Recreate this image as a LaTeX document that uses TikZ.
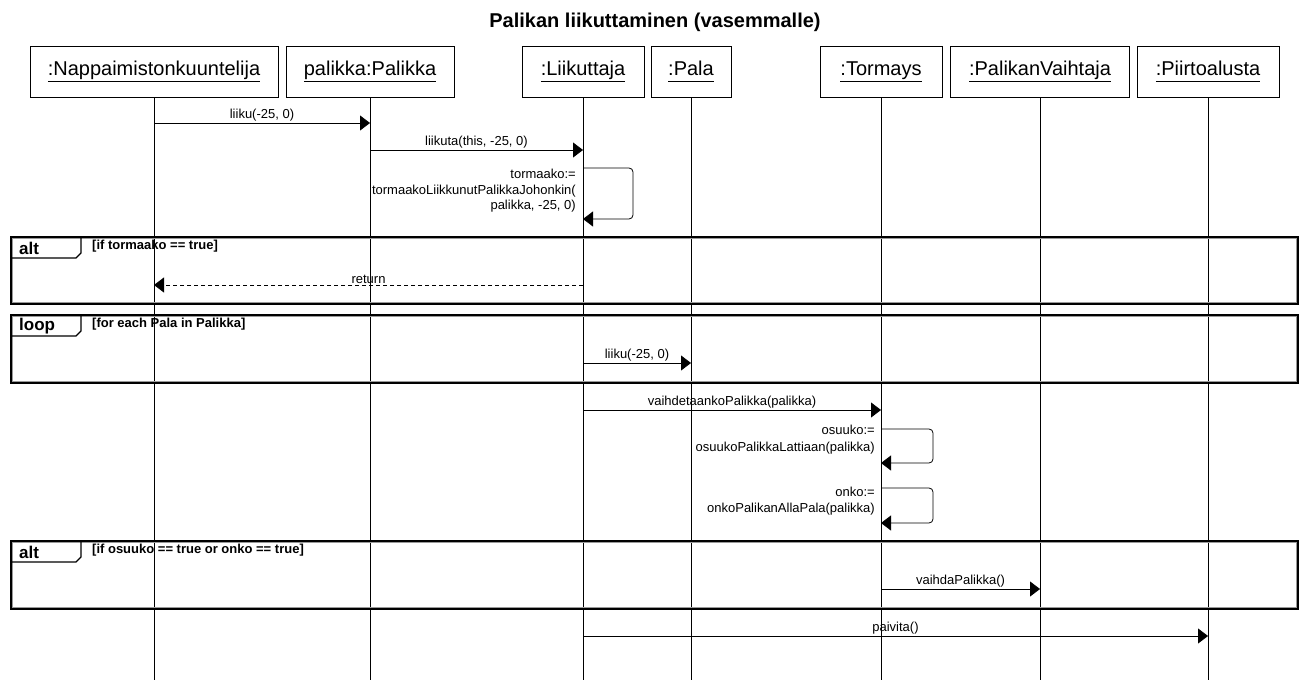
\documentclass[tikz,border=0pt]{standalone}
\usepackage{fontspec}
\setmainfont{Liberation Sans}
\usetikzlibrary{positioning}
\usetikzlibrary{calc,arrows.meta}

\newcommand{\objname}[1]{\underline{\vphantom{Jj}#1}}

\begin{document}
\begin{tikzpicture}[x=1pt,y=-1pt,every node/.style={inner sep=1pt}]
	
	\tikzstyle{object}=[rectangle,draw=black,thin,minimum height=51pt,font=\fontsize{20}{24}\selectfont]
	\tikzstyle{lifeline}=[black,line width=0.7pt]
	\tikzstyle{msg}=[black,line width=0.8pt,-{Triangle[length=10pt,width=15pt]}]
	\tikzstyle{reply}=[msg,dash pattern=on 4pt off 3pt]
	\tikzstyle{msg label}=[font=\fontsize{13}{16}\selectfont]
	\tikzstyle{frame}=[draw=black,line width=1.3pt]
	\tikzstyle{frame shadow}=[draw=black!40,line width=1pt]
	\tikzstyle{tab}=[anchor=west,font=\bfseries\fontsize{17}{20}\selectfont]
	\tikzstyle{guard}=[anchor=west,font=\bfseries\fontsize{13}{15}\selectfont]
	
	\useasboundingbox (0,0) rectangle (1308,693);
	
	\node [font=\bfseries\fontsize{20}{24}\selectfont] (title) at (655,22) {Palikan liikuttaminen (vasemmalle)};
	
	% Objects:
	\node [object,minimum width=248pt] (napp) at (154,71.5) {\objname{:Nappaimistonkuuntelija}};
	\node [object,minimum width=168pt] (palikka) at (370,71.5) {\objname{palikka:Palikka}};
	\node [object,minimum width=122pt] (liik) at (583,71.5) {\objname{:Liikuttaja}};
	\node [object,minimum width=80pt] (pala) at (691,71.5) {\objname{:Pala}};
	\node [object,minimum width=122pt] (torm) at (881,71.5) {\objname{:Tormays}};
	\node [object,minimum width=179pt] (vaiht) at (1040,71.5) {\objname{:PalikanVaihtaja}};
	\node [object,minimum width=142pt] (piirto) at (1208,71.5) {\objname{:Piirtoalusta}};
	
	% Lifelines:
	\coordinate (bottom) at (0,680);
	\foreach \o in {napp,palikka,liik,pala,torm,vaiht,piirto}
		\draw[lifeline] (\o.south) -- (\o |- bottom);
	
	% Messages:
	\coordinate (y1) at (0,123);
	\coordinate (y2) at (0,150);
	\coordinate (y3) at (0,168);
	\coordinate (y4) at (0,219);
	\draw[msg] (napp |- y1) -- (palikka |- y1) node [msg label,midway,above] (m1) {liiku(-25, 0)};
	\draw[msg] (palikka |- y2) -- (liik |- y2) node [msg label,midway,above] (m2) {liikuta(this, -25, 0)};
	\draw[msg,rounded corners=4pt] (liik |- y3) -- ++(50,0) |- (liik |- y4);
	\node [msg label,font=\fontsize{13}{15.5}\selectfont,align=right,anchor=north east] (m3) at ($(liik |- y3)+(-6,0)$) {tormaako:=\\tormaakoLiikkunutPalikkaJohonkin(\\palikka, -25, 0)};
	
	\begin{scope}[
	shift={(0,237)}
	]
		\draw[frame] (11,0) rectangle (1298,67);
		\draw[frame shadow] (12.5,1.5) rectangle (1296.5,65.5);
		\draw[black,line width=1.2pt] (11,21) -- (76,21) -- (81,16) -- (81,0);
		\node [tab] (alt1) at (18,11) {alt};
		\node [guard] (g1) at (91,9) {[if tormaako == true]};
		\coordinate (y5) at (0,48);
		\draw[reply] (liik |- y5) -- (napp |- y5) node [msg label,midway,above] (m4) {return};
	\end{scope}
	
	\begin{scope}[
	shift={(0,315)}
	]
		\draw[frame] (11,0) rectangle (1298,68);
		\draw[frame shadow] (12.5,1.5) rectangle (1296.5,66.5);
		\draw[black,line width=1.2pt] (11,21) -- (76,21) -- (81,16) -- (81,0);
		\node [tab] (loop1) at (18,11) {loop};
		\node [guard] (g2) at (91,9) {[for each Pala in Palikka]};
		\coordinate (y6) at (0,48);
		\draw[msg] (liik |- y6) -- (pala |- y6) node [msg label,midway,above] (m5) {liiku(-25, 0)};
	\end{scope}
	
	\coordinate (y7) at (0,410);
	\coordinate (y8) at (0,429);
	\coordinate (y9) at (0,463);
	\coordinate (y10) at (0,488);
	\coordinate (y11) at (0,523);
	\draw[msg] (liik |- y7) -- (torm |- y7) node [msg label,midway,above] (m6) {vaihdetaankoPalikka(palikka)};
	\draw[msg,rounded corners=4pt] (torm |- y8) -- ++(52,0) |- (torm |- y9);
	\node [msg label,font=\fontsize{13}{16.5}\selectfont,align=right,anchor=north east] (m7) at ($(torm |- y8)+(-5,-5)$) {osuuko:=\\osuukoPalikkaLattiaan(palikka)};
	\draw[msg,rounded corners=4pt] (torm |- y10) -- ++(52,0) |- (torm |- y11);
	\node [msg label,align=right,anchor=north east] (m8) at ($(torm |- y10)+(-5,-2)$) {onko:=\\onkoPalikanAllaPala(palikka)};
	
	\begin{scope}[
	shift={(0,541)}
	]
		\draw[frame] (11,0) rectangle (1298,68);
		\draw[frame shadow] (12.5,1.5) rectangle (1296.5,66.5);
		\draw[black,line width=1.2pt] (11,21) -- (76,21) -- (81,16) -- (81,0);
		\node [tab] (alt2) at (18,11) {alt};
		\node [guard] (g3) at (91,9) {[if osuuko == true or onko == true]};
		\coordinate (y12) at (0,48);
		\draw[msg] (torm |- y12) -- (vaiht |- y12) node [msg label,midway,above] (m9) {vaihdaPalikka()};
	\end{scope}
	
	\coordinate (y13) at (0,636);
	\draw[msg] (liik |- y13) -- (piirto |- y13) node [msg label,midway,above] (m10) {paivita()};
	
\end{tikzpicture}
\end{document}
